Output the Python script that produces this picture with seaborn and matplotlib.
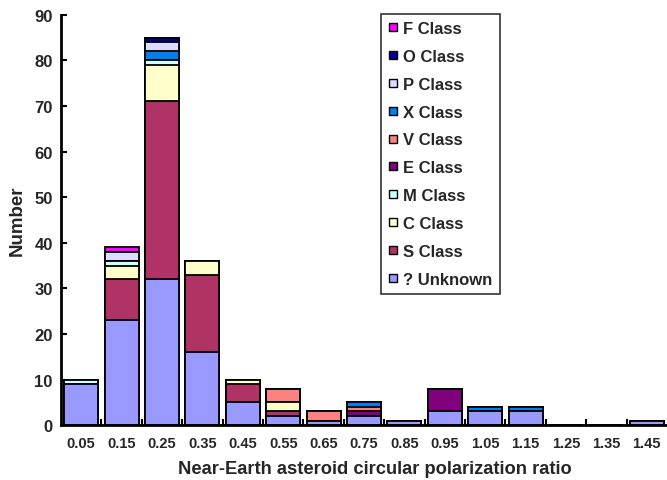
import numpy as np
import pandas as pd
import matplotlib
matplotlib.use("Agg")
import matplotlib.pyplot as plt
import seaborn as sns
from matplotlib.lines import Line2D

# ----------------------------
# Data
# ----------------------------
ratios = ["0.05", "0.15", "0.25", "0.35", "0.45", "0.55", "0.65", "0.75",
          "0.85", "0.95", "1.05", "1.15", "1.25", "1.35", "1.45"]

unknown = [9, 23, 32, 16, 5, 2, 1, 2, 1, 3, 3, 3, 0, 0, 1]
s_class = [0, 9, 39, 17, 4, 1, 0, 0, 0, 0, 0, 0, 0, 0, 0]
c_class = [0, 3, 8, 3, 1, 2, 0, 0, 0, 0, 0, 0, 0, 0, 0]
m_class = [1, 1, 1, 0, 0, 0, 0, 0, 0, 0, 0, 0, 0, 0, 0]
e_class = [0, 0, 0, 0, 0, 0, 0, 1, 0, 5, 0, 0, 0, 0, 0]
v_class = [0, 0, 0, 0, 0, 3, 2, 1, 0, 0, 0, 0, 0, 0, 0]
x_class = [0, 0, 2, 0, 0, 0, 0, 1, 0, 0, 1, 1, 0, 0, 0]
p_class = [0, 2, 2, 0, 0, 0, 0, 0, 0, 0, 0, 0, 0, 0, 0]
o_class = [0, 0, 1, 0, 0, 0, 0, 0, 0, 0, 0, 0, 0, 0, 0]
f_class = [0, 1, 0, 0, 0, 0, 0, 0, 0, 0, 0, 0, 0, 0, 0]

# stacking order, bottom to top
classes = ["? Unknown", "S Class", "C Class", "M Class", "E Class",
           "V Class", "X Class", "P Class", "O Class", "F Class"]
counts = [unknown, s_class, c_class, m_class, e_class,
          v_class, x_class, p_class, o_class, f_class]
colors = ["#9999FF", "#B03366", "#FFFFCC", "#CCFFFF", "#800080",
          "#FF8080", "#0080F0", "#DCDCFF", "#000099", "#FF00FF"]

df = pd.DataFrame(dict(zip(classes, counts)), index=ratios)
cum = df.cumsum(axis=1)

sns.set_style("white")
plt.rcParams["font.family"] = ["Liberation Sans", "DejaVu Sans"]
plt.rcParams["font.weight"] = "bold"

# ----------------------------
# Plot
# ----------------------------
fig = plt.figure(figsize=(6.67, 4.81), dpi=100)
ax = fig.add_axes([0.0915, 0.114, 0.9085, 0.853])

# draw cumulative totals from the top class down so lower ones overlay
for cls, col in zip(classes[::-1], colors[::-1]):
    sns.barplot(x=ratios, y=cum[cls].values, color=col, width=0.84,
                edgecolor="black", linewidth=1.3, saturation=1, ax=ax)

ax.set_xlim(-0.5, 14.5)
ax.set_ylim(0, 90)
ax.set_yticks(range(0, 91, 10))
ax.set_xticks(range(len(ratios)))
ax.set_xticklabels(ratios)
ax.set_xticks(np.arange(0.5, 14, 1), minor=True)
ax.tick_params(axis="x", which="major", bottom=True, length=0, labelsize=10.5, pad=8)
ax.tick_params(axis="x", which="minor", bottom=True, direction="in", length=4,
               width=1.5, color="black")
ax.tick_params(axis="y", left=True, direction="in", length=4, width=1.5,
               color="black", labelsize=12, pad=6)

for side in ["top", "right"]:
    ax.spines[side].set_visible(False)
for side in ["left", "bottom"]:
    ax.spines[side].set_linewidth(2)
    ax.spines[side].set_color("black")

ax.set_xlabel("Near-Earth asteroid circular polarization ratio", fontsize=13.2,
              fontweight="bold")
ax.xaxis.set_label_coords(0.518, -0.085)
ax.set_ylabel("Number", fontsize=13.5, fontweight="bold", labelpad=6)

handles = [Line2D([], [], marker="s", linestyle="none", markersize=6,
                  markerfacecolor=col, markeredgecolor="black", markeredgewidth=1)
           for col in colors[::-1]]
leg = ax.legend(handles, classes[::-1], loc="upper left", bbox_to_anchor=(0.528, 1.003),
                frameon=True, fancybox=False, edgecolor="black", fontsize=12,
                handlelength=0.6, handletextpad=0.3, labelspacing=0.77,
                borderpad=0.45, borderaxespad=0)
leg.get_frame().set_linewidth(1.2)
for t in leg.get_texts():
    t.set_fontweight("bold")

fig.savefig("out.png", dpi=100)
